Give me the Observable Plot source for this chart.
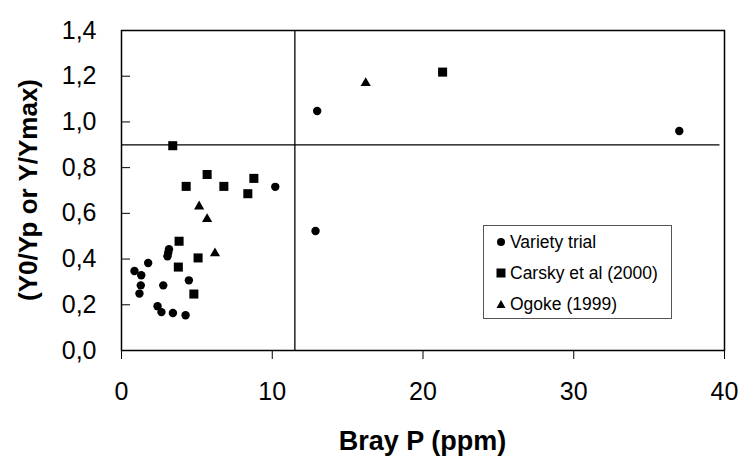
<!DOCTYPE html>
<html>
<head>
<meta charset="utf-8">
<script src="https://cdn.jsdelivr.net/npm/d3@7"></script>
<script src="https://cdn.jsdelivr.net/npm/@observablehq/plot@0.6"></script>
<style>
  html, body { margin: 0; padding: 0; background: white; }
  #wrap { position: relative; width: 742px; height: 459px; font-family: "Liberation Sans", Arial, sans-serif; }
  #legend { position: absolute; left: 483px; top: 225px; width: 187px; height: 92px; border: 1.5px solid #555; background: white; font-size: 17.5px; color: black; }
  .item { position: absolute; left: 12px; height: 20px; display: flex; align-items: center; }
  .item svg { margin-right: 4px; }
</style>
</head>
<body>
<div id="wrap"></div>
<script>
// Data
const varietyX = [0.86, 1.31, 1.28, 1.19, 1.77, 3.15, 3.1, 3.05, 2.77, 4.47, 2.39, 2.65, 3.41, 4.25, 10.2, 12.98, 12.87, 37.0];
const varietyY = [0.348, 0.329, 0.285, 0.249, 0.383, 0.443, 0.428, 0.412, 0.285, 0.307, 0.194, 0.168, 0.164, 0.154, 0.716, 1.048, 0.523, 0.96];
const carskyX = [3.4, 4.29, 5.68, 6.79, 8.78, 8.38, 3.82, 3.77, 5.08, 4.8, 21.3];
const carskyY = [0.896, 0.718, 0.77, 0.718, 0.753, 0.686, 0.478, 0.365, 0.405, 0.247, 1.218];
const ogokeX = [5.15, 5.68, 6.2, 16.2];
const ogokeY = [0.63, 0.575, 0.425, 1.17];
const seriesNames = ["Variety trial", "Carsky et al (2000)", "Ogoke (1999)"];
const xTicks = [0, 10, 20, 30, 40];
const yTicks = [0, 0.2, 0.4, 0.6, 0.8, 1.0, 1.2, 1.4];
const thresholdX = 11.5;
const thresholdY = 0.9;
const xTitle = "Bray P (ppm)";
const yTitle = "(Y0/Yp or Y/Ymax)";

const variety = varietyX.map((x, i) => ({x, y: varietyY[i]}));
const carsky = carskyX.map((x, i) => ({x, y: carskyY[i]}));
const ogoke = ogokeX.map((x, i) => ({x, y: ogokeY[i]}));
const fmt = d => d.toFixed(1).replace(".", ",");

const W = 742, H = 459, mL = 121, mR = 18, mT = 30, mB = 109;

const chart = Plot.plot({
  width: W,
  height: H,
  marginLeft: mL,
  marginRight: mR,
  marginTop: mT,
  marginBottom: mB,
  style: {fontFamily: "'Liberation Sans', Arial, sans-serif", fontSize: "25px", color: "black", background: "white"},
  x: {domain: [0, 40]},
  y: {domain: [0, 1.4]},
  marks: [
    Plot.ruleY(yTicks, {x1: 0, x2: 0.6, stroke: "black", strokeWidth: 1}),
    Plot.ruleX([thresholdX], {y1: 0, y2: 1.4, stroke: "black", strokeWidth: 1.3}),
    Plot.ruleY([thresholdY], {x1: 0, x2: 39.7, stroke: "black", strokeWidth: 1.3}),
    Plot.frame({stroke: "black", strokeWidth: 1.5}),
    Plot.axisX({ticks: xTicks, tickSize: 9, tickPadding: 23, fontSize: 25, label: null, stroke: "black", strokeWidth: 1}),
    Plot.axisY({ticks: yTicks, tickSize: 0, tickPadding: 25, fontSize: 25, tickFormat: fmt, label: null}),
    Plot.dot(variety, {x: "x", y: "y", r: 4.2, symbol: "circle", fill: "black"}),
    Plot.dot(carsky, {x: "x", y: "y", r: 5.1, symbol: "square", fill: "black"}),
    Plot.dot(ogoke, {x: "x", y: "y", r: 3.8, symbol: "triangle", fill: "black"})
  ]
});

// Axis titles
const svg = d3.select(chart);
const font = "'Liberation Sans', Arial, sans-serif";
svg.append("text")
  .attr("x", mL + (W - mL - mR) / 2)
  .attr("y", 450)
  .attr("text-anchor", "middle")
  .attr("font-family", font)
  .attr("font-size", 27)
  .attr("font-weight", "bold")
  .attr("fill", "black")
  .text(xTitle);
svg.append("text")
  .attr("transform", `translate(37,${mT + (H - mT - mB) / 2}) rotate(-90)`)
  .attr("text-anchor", "middle")
  .attr("font-family", font)
  .attr("font-size", 26)
  .attr("font-weight", "bold")
  .attr("fill", "black")
  .text(yTitle);

const wrap = document.getElementById("wrap");
wrap.appendChild(chart);

// Legend (inside plot area)
const legend = document.createElement("div");
legend.id = "legend";
const shapes = [
  '<svg width="10" height="10"><circle cx="5" cy="5" r="4" fill="black"/></svg>',
  '<svg width="10" height="10"><rect x="0.5" y="0.5" width="9" height="9" fill="black"/></svg>',
  '<svg width="10" height="10"><polygon points="5,1 9.5,9 0.5,9" fill="black"/></svg>'
];
const rowCenters = [16, 47, 78];
seriesNames.forEach((name, i) => {
  const item = document.createElement("div");
  item.className = "item";
  item.style.top = (rowCenters[i] - 10) + "px";
  item.innerHTML = shapes[i] + "<span></span>";
  item.querySelector("span").textContent = name;
  legend.appendChild(item);
});
wrap.appendChild(legend);
</script>
</body>
</html>
